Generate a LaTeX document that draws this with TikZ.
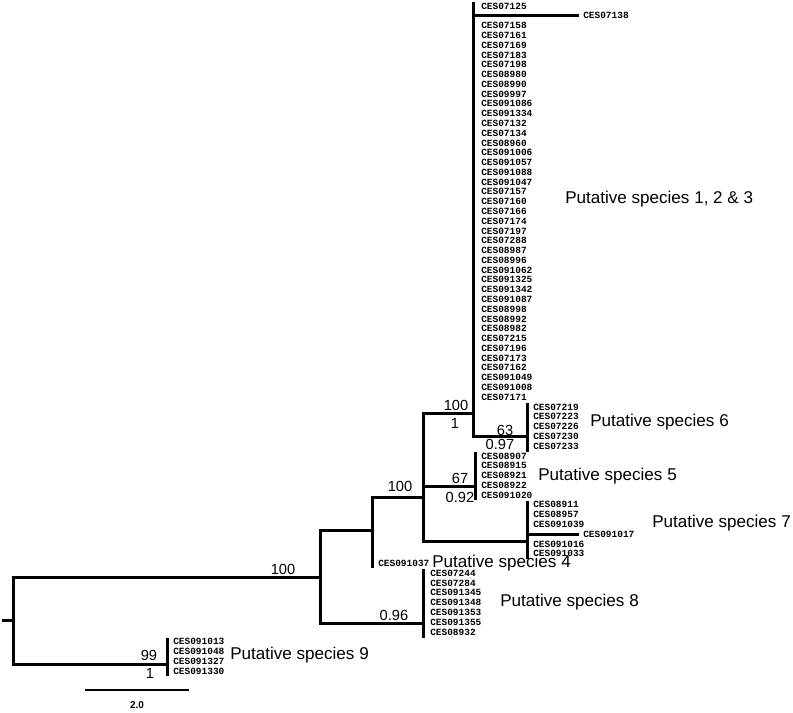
\documentclass[tikz,border=0pt]{standalone}
\usepackage{fontspec}
\setmainfont{Liberation Sans}
\newfontfamily\tipfont{Liberation Mono}
\begin{document}
\begin{tikzpicture}[x=0.75pt,y=-0.75pt,
  br/.style={line width=2.25pt,line cap=rect},
  tip/.style={font=\tipfont\bfseries\fontsize{7.1}{8}\selectfont,anchor=west,inner sep=0pt},
  supp/.style={font=\fontsize{11}{13}\selectfont,inner sep=0pt},
  spc/.style={font=\fontsize{12.8}{15}\selectfont,anchor=west,inner sep=0pt},
  scl/.style={font=\bfseries\fontsize{7.5}{9}\selectfont,inner sep=0pt}]
\useasboundingbox (0,0) rectangle (793,713);

% ---- tree vertices ----
\coordinate (stub) at (3,620);
\coordinate (root) at (13,620);
\coordinate (n1) at (320,577);
\coordinate (n1c) at (320,577);
\coordinate (n2) at (372,530);
\coordinate (n3) at (423,497);
\coordinate (n4) at (473,413);
\coordinate (n4top) at (473,4);
\coordinate (b138) at (473,16);
\coordinate (e138) at (577,16);
\coordinate (s6) at (527,436);
\coordinate (s6a) at (527,404);
\coordinate (s6b) at (527,450);
\coordinate (s5) at (475,486);
\coordinate (s5a) at (475,453);
\coordinate (s5b) at (475,498);
\coordinate (s7) at (527,541);
\coordinate (s7a) at (527,502);
\coordinate (s7b) at (527,557);
\coordinate (b017) at (527,534);
\coordinate (e017) at (577,534);
\coordinate (s4) at (372,566);
\coordinate (s8) at (423,623);
\coordinate (s8a) at (423,570);
\coordinate (s8b) at (423,636);
\coordinate (s9) at (167,664);
\coordinate (s9a) at (167,639);
\coordinate (s9b) at (167,674);
\coordinate (sb1) at (85,690);
\coordinate (sb2) at (189,690);

% ---- branches ----
\draw[br] (stub) -- (root);
\draw[br] (root) |- (n1);
\draw[br] (root) |- (s9);
\draw[br] (n1) |- (n2);
\draw[br] (n1) |- (s8);
\draw[br] (n2) |- (n3);
\draw[br] (n2) -- (s4);
\draw[br] (n3) |- (n4);
\draw[br] (n3) |- (s5);
\draw[br] (n3) |- (s7);
\draw[br] (n4top) -- (n4);
\draw[br] (n4) |- (s6);
\draw[br] (b138) -- (e138);
\draw[br] (s6a) -- (s6b);
\draw[br] (s5a) -- (s5b);
\draw[br] (s7a) -- (s7b);
\draw[br] (b017) -- (e017);
\draw[br] (s8a) -- (s8b);
\draw[br] (s9a) -- (s9b);

% ---- tip labels ----
\foreach \k/\t in {0/CES07125,2/CES07158,3/CES07161,4/CES07169,5/CES07183,6/CES07198,
  7/CES08980,8/CES08990,9/CES09997,10/CES091086,11/CES091334,12/CES07132,13/CES07134,
  14/CES08960,15/CES091006,16/CES091057,17/CES091088,18/CES091047,19/CES07157,20/CES07160,
  21/CES07166,22/CES07174,23/CES07197,24/CES07288,25/CES08987,26/CES08996,27/CES091062,
  28/CES091325,29/CES091342,30/CES091087,31/CES08998,32/CES08992,33/CES08982,34/CES07215,
  35/CES07196,36/CES07173,37/CES07162,38/CES091049,39/CES091008,40/CES07171,
  46/CES08907,47/CES08915,48/CES08921,49/CES08922,50/CES091020}
  \node[tip] (t\k) at (481,{6+9.78*\k}) {\t};
\node[tip] (t1) at (583,{6+9.78*1}) {CES07138};
\foreach \k/\t in {41/CES07219,42/CES07223,43/CES07226,44/CES07230,45/CES07233,
  51/CES08911,52/CES08957,53/CES091039,55/CES091016,56/CES091033}
  \node[tip] (t\k) at (533,{6+9.78*\k}) {\t};
\node[tip] (t54) at (583,{6+9.78*54}) {CES091017};
\node[tip] (t57) at (378,{6+9.78*57}) {CES091037};
\foreach \k/\t in {58/CES07244,59/CES07284,60/CES091345,61/CES091348,62/CES091353,
  63/CES091355,64/CES08932}
  \node[tip] (t\k) at (430,{6+9.78*\k}) {\t};
\foreach \k/\t in {65/CES091013,66/CES091048,67/CES091327,68/CES091330}
  \node[tip] (t\k) at (173,{6+9.78*\k}) {\t};

% ---- support values ----
\node[supp] (v1) at (283,569) {100};
\node[supp] (v2) at (149,655) {99};
\node[supp] (v3) at (150,673) {1};
\node[supp] (v4) at (394,615) {0.96};
\node[supp] (v5) at (400,486) {100};
\node[supp] (v6) at (456,405) {100};
\node[supp] (v7) at (455,423) {1};
\node[supp] (v8) at (460,478) {67};
\node[supp] (v9) at (460,497) {0.92};
\node[supp] (v10) at (505,430) {63};
\node[supp] (v11) at (500,444) {0.97};

% ---- species labels ----
\node[spc] (p123) at (565,199) {Putative species 1, 2 \& 3};
\node[spc] (p6) at (590,422) {Putative species 6};
\node[spc] (p5) at (538,476) {Putative species 5};
\node[spc] (p7) at (652,523) {Putative species 7};
\node[spc] (p4) at (432,563) {Putative species 4};
\node[spc] (p8) at (500,602) {Putative species 8};
\node[spc] (p9) at (230,655) {Putative species 9};

% ---- scale bar ----
\draw[line width=1.2pt] (sb1) -- (sb2);
\node[scl] (sl) at (137,705) {2.0};
\end{tikzpicture}
\end{document}
